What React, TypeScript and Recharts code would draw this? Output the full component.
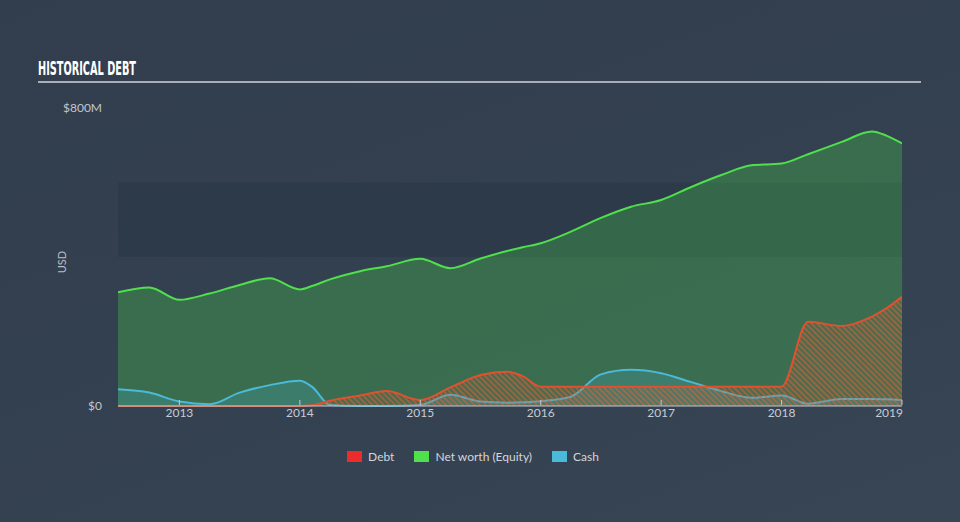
import { AreaChart, Area, XAxis, YAxis, ReferenceArea } from "recharts";

// quarterly points ($M)
const dates = [
  2012.49, 2012.75, 2013.0, 2013.25, 2013.5, 2013.75, 2014.0, 2014.1, 2014.25, 2014.5, 2014.72,
  2015.0, 2015.25, 2015.5, 2015.72, 2015.85, 2016.0, 2016.25, 2016.5, 2016.75, 2017.0,
  2017.25, 2017.5, 2017.75, 2018.0, 2018.22, 2018.5, 2018.75, 2018.87, 2019.0,
];
const debt = [
  0, 0, 0, 0, 0, 0, 0, 2, 14, 28, 40,
  16, 50, 83, 92, 80, 52, 52, 52, 52, 52,
  52, 52, 52, 52, 226, 215, 240, 262, 293,
];
const equity = [
  305, 318, 285, 302, 325, 343, 313, 322, 340, 362, 375,
  395, 370, 396, 416, 426, 437, 468, 505, 535, 553,
  588, 620, 646, 651, 676, 709, 737, 726, 705,
];
const cash = [
  45, 36, 12, 5, 36, 56, 68, 52, 3, 0, 0,
  3, 30, 12, 9, 10, 13, 25, 85, 97, 88,
  64, 40, 22, 28, 6, 19, 19, 18, 16,
];
const yearTicks = [2013, 2014, 2015, 2016, 2017, 2018, 2019];
const yTicks = [0, 800];

const legendItems = [
  { label: "Debt", color: "#ec2b2b" },
  { label: "Net worth (Equity)", color: "#4fe04c" },
  { label: "Cash", color: "#4bb9da" },
];

const data = dates.map((d, i) => ({ date: d, debt: debt[i], equity: equity[i], cash: cash[i] }));

const YearTick = (props: any) => {
  const { x, y, payload } = props;
  const last = payload.value === 2019;
  return (
    <g>
      <line x1={x} y1={y - 8} x2={x} y2={y - 3} stroke="#c3c8ce" strokeWidth={1} />
      <text
        x={last ? x + 1 : x}
        y={y + 9}
        textAnchor={last ? "end" : "middle"}
        fill="#c8ccd1"
        fontSize={12}
        fontFamily="Lato, 'Open Sans', sans-serif"
      >
        {payload.value}
      </text>
    </g>
  );
};

export default function App() {
  return (
    <div
      style={{
        position: "absolute",
        left: 0,
        top: 0,
        width: 960,
        height: 522,
        background: "linear-gradient(160deg, #323e4e 0%, #344151 60%, #384555 100%)",
        fontFamily: "Lato, 'Open Sans', sans-serif",
      }}
    >
      <svg width={960} height={522} style={{ position: "absolute", left: 0, top: 0 }}>
        <text
          x={38}
          y={75}
          textLength={98}
          lengthAdjust="spacingAndGlyphs"
          fill="#ffffff"
          fontSize={19}
          fontWeight="bold"
          fontFamily="'DejaVu Sans Condensed', 'DejaVu Sans', sans-serif"
        >
          HISTORICAL DEBT
        </text>
        <line x1={38} y1={82} x2={921} y2={82} stroke="#a9afb7" strokeWidth={2} />
        <text
          x={66}
          y={262}
          transform="rotate(-90 66 262)"
          textAnchor="middle"
          fill="#b9bec5"
          fontSize={11}
        >
          USD
        </text>
      </svg>
      <div style={{ position: "absolute", left: 0, top: 0 }}>
        <AreaChart
          width={960}
          height={522}
          data={data}
          margin={{ top: 108, right: 58, bottom: 86, left: 58 }}
        >
          <defs>
            <pattern
              id="debtHatch"
              patternUnits="userSpaceOnUse"
              width={4}
              height={4}
              patternTransform="rotate(-45)"
            >
              <rect width={4} height={4} fill="#c0522f" fillOpacity={0.12} />
              <line x1={1} y1={0} x2={1} y2={4} stroke="#d9603a" strokeWidth={1.4} strokeOpacity={0.75} />
            </pattern>
          </defs>
          <ReferenceArea y1={400} y2={600} fill="#2d3a4a" fillOpacity={1} stroke="none" ifOverflow="hidden" />
          <XAxis
            type="number"
            dataKey="date"
            domain={[2012.49, 2019.0]}
            ticks={yearTicks}
            allowDataOverflow
            height={30}
            tickLine={false}
            axisLine={{ stroke: "#c3c8ce", strokeWidth: 1 }}
            tick={<YearTick />}
            tickSize={0}
            interval={0}
          />
          <YAxis
            type="number"
            domain={[0, 800]}
            ticks={yTicks}
            width={60}
            axisLine={false}
            tickLine={false}
            tickSize={0}
            tickMargin={16}
            tickFormatter={(v: number) => (v === 0 ? "$0" : `$${v}M`)}
            tick={{ fill: "#c3c7cd", fontSize: 12 }}
          />
          <Area
            type="monotone"
            dataKey="equity"
            stroke="#4fe04c"
            strokeWidth={2}
            fill="#4be24a"
            fillOpacity={0.28}
            isAnimationActive={false}
            dot={false}
            activeDot={false}
          />
          <Area
            type="monotone"
            dataKey="cash"
            stroke="#4bb9da"
            strokeWidth={2}
            fill="#4bb9da"
            fillOpacity={0.2}
            isAnimationActive={false}
            dot={false}
            activeDot={false}
          />
          <Area
            type="monotone"
            dataKey="debt"
            stroke="#e0522f"
            strokeWidth={2}
            fill="url(#debtHatch)"
            fillOpacity={1}
            isAnimationActive={false}
            dot={false}
            activeDot={false}
          />
        </AreaChart>
      </div>
      <div
        style={{
          position: "absolute",
          left: 0,
          top: 449,
          width: 960,
          display: "flex",
          justifyContent: "center",
          gap: 20,
          fontSize: 12,
          color: "#d2d6db",
          paddingRight: 14,
          boxSizing: "border-box",
        }}
      >
        {legendItems.map((it) => (
          <div key={it.label} style={{ display: "flex", alignItems: "center" }}>
            <span style={{ width: 15, height: 11, background: it.color, display: "inline-block", marginRight: 6 }} />
            <span>{it.label}</span>
          </div>
        ))}
      </div>
    </div>
  );
}
